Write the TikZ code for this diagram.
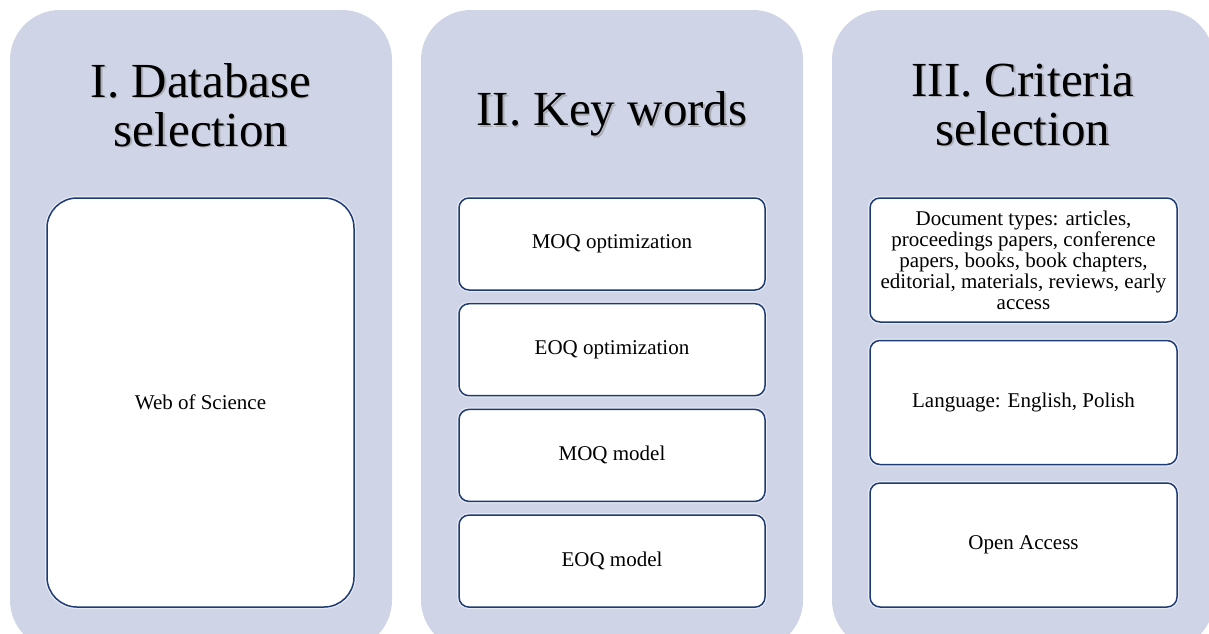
\documentclass[tikz,border=0pt]{standalone}
\usepackage{fontspec}
\setmainfont{Liberation Serif}
\usetikzlibrary{positioning}

\definecolor{panelgrey}{RGB}{207,213,230}
\definecolor{boxblue}{RGB}{31,59,115}

\begin{document}
\begin{tikzpicture}[x=1pt, y=-1pt,
        panel/.style={rectangle, rounded corners=50pt, fill=panelgrey,
            minimum width=382pt, minimum height=640pt, inner sep=0pt},
        title/.style={align=center, inner sep=0pt,
            font=\fontsize{49}{49}\selectfont},
        titleshadow/.style={title, text=black!50, opacity=0.45},
        card/.style={rectangle, rounded corners=10pt, draw=boxblue,
            line width=1.5pt, fill=white, minimum width=306pt,
            inner sep=0pt, outer sep=0pt, align=center,
            font=\fontsize{21}{21}\selectfont,
            preaction={draw=white, line width=4pt, opacity=0.5}},
        node distance=13.7pt]
    \useasboundingbox (0,0) rectangle (1209,633);
    \clip (0,0) rectangle (1209,633);

    % I. Database selection
    \node[panel] (dbpanel) at (201,330) {};
    \node[titleshadow] (dbshadow) at (202.5,106.5) {I. Database\\selection};
    \node[title] (dbtitle) at (201,105) {I. Database\\selection};
    \node[card, rounded corners=30pt, minimum width=307pt,
        minimum height=409pt] (wos) at (200.5,402.5) {Web of Science};

    % II. Key words
    \node[panel] (kwpanel) at (612,330) {};
    \node[titleshadow] (kwshadow) at (613.5,115.5) {II. Key words};
    \node[title] (kwtitle) at (612,114) {II. Key words};
    \node[card, minimum height=92pt] (moqopt) at (612,244) {MOQ optimization};
    \node[card, minimum height=92pt, below=of moqopt] (eoqopt) {EOQ optimization};
    \node[card, minimum height=92pt, below=of eoqopt] (moqmodel) {MOQ model};
    \node[card, minimum height=92pt, below=of moqmodel] (eoqmodel) {EOQ model};

    % III. Criteria selection
    \node[panel] (crpanel) at (1023,330) {};
    \node[titleshadow] (crshadow) at (1024.5,106.5) {III. Criteria\\selection};
    \node[title] (crtitle) at (1023,105) {III. Criteria\\selection};
    \node[card, minimum width=307pt, minimum height=124pt] (doctypes) at (1023.5,260)
        {Document types: articles,\\proceedings papers, conference\\papers, books, book chapters,\\editorial, materials, reviews, early\\access};
    \node[card, minimum width=307pt, minimum height=124pt, below=18.5pt of doctypes]
        (language) {Language: English, Polish};
    \node[card, minimum width=307pt, minimum height=124pt, below=18.5pt of language]
        (openaccess) {Open Access};
\end{tikzpicture}
\end{document}
